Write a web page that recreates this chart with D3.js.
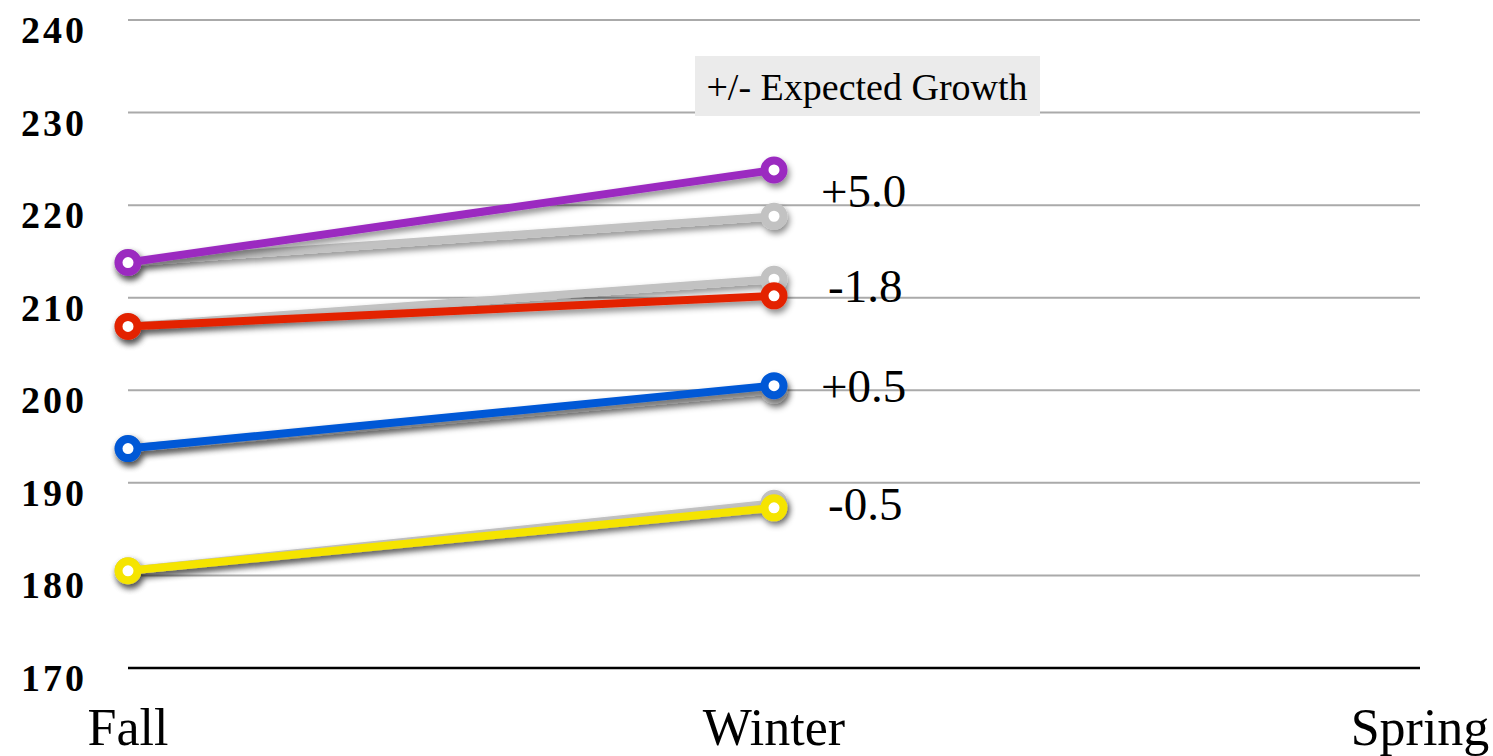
<!DOCTYPE html>
<html>
<head>
<meta charset="utf-8">
<script src="https://cdn.jsdelivr.net/npm/d3@7"></script>
<style>
  html, body { margin: 0; padding: 0; background: #fff; }
  svg { display: block; font-family: "Liberation Serif", "DejaVu Serif", serif; }
</style>
</head>
<body>
<svg id="chart" width="1493" height="756"></svg>
<script>
// Terms on the x axis
const terms = ["Fall", "Winter", "Spring"];
// Y axis ticks
const yTicks = [170, 180, 190, 200, 210, 220, 230, 240];

// Each group: colour, fall score, winter score and the expected winter score
const groupNames = ["purple", "red", "blue", "yellow"];
const groupColors = ["#9b2cc0", "#e32400", "#0059d6", "#f5e400"];
const fallScores = [213.8, 206.9, 193.7, 180.5];
const winterScores = [223.8, 210.2, 200.5, 187.3];
const expectedWinter = [218.8, 212.0, 200.0, 187.8];

const legendTitle = "+/- Expected Growth";

const svg = d3.select("#chart");

const x = d3.scalePoint().domain(terms).range([128, 1420]);
const y = d3.scaleLinear().domain([170, 240]).range([668, 20]);

// Soft drop shadow under the series
const defs = svg.append("defs");
const f = defs.append("filter").attr("id", "shadow")
  .attr("x", "-20%").attr("y", "-50%").attr("width", "140%").attr("height", "200%");
f.append("feDropShadow").attr("dx", 2).attr("dy", 4)
  .attr("stdDeviation", 3).attr("flood-color", "#000").attr("flood-opacity", 0.45);

// Gridlines
svg.append("g").selectAll("line")
  .data(yTicks.filter(t => t > 170))
  .join("line")
  .attr("x1", x("Fall")).attr("x2", x("Spring"))
  .attr("y1", d => y(d)).attr("y2", d => y(d))
  .attr("stroke", "#aaaaaa").attr("stroke-width", 2);

// Baseline
svg.append("line")
  .attr("x1", x("Fall")).attr("x2", x("Spring"))
  .attr("y1", y(170)).attr("y2", y(170))
  .attr("stroke", "#000").attr("stroke-width", 2.5);

// Y tick labels
svg.append("g").selectAll("text")
  .data(yTicks)
  .join("text")
  .attr("x", 87).attr("y", d => y(d) + 10)
  .attr("text-anchor", "end")
  .attr("dominant-baseline", "central")
  .attr("font-size", 38).attr("font-weight", "bold")
  .attr("letter-spacing", 3)
  .attr("fill", "#000")
  .text(d => d);

// X labels
svg.append("g").selectAll("text")
  .data(terms)
  .join("text")
  .attr("x", d => x(d)).attr("y", 745)
  .attr("text-anchor", "middle")
  .attr("font-size", 52)
  .attr("fill", "#000")
  .text(d => d);

// Legend title box
const lg = svg.append("g");
lg.append("rect").attr("x", 695).attr("y", 56).attr("width", 345).attr("height", 60).attr("fill", "#ebebeb");
lg.append("text").attr("x", 867).attr("y", 87)
  .attr("text-anchor", "middle").attr("dominant-baseline", "central")
  .attr("font-size", 38).attr("fill", "#000")
  .text(legendTitle);

const groups = groupNames.map((n, i) => ({
  name: n,
  color: groupColors[i],
  actual: [{ t: "Fall", v: fallScores[i] }, { t: "Winter", v: winterScores[i] }],
  expected: [{ t: "Fall", v: fallScores[i] }, { t: "Winter", v: expectedWinter[i] }],
  diff: winterScores[i] - expectedWinter[i]
}));

const line = d3.line().x(d => x(d.t)).y(d => y(d.v));

function drawSeries(g, pts, color) {
  const s = g.append("g").attr("filter", "url(#shadow)");
  s.append("path").datum(pts).attr("d", line)
    .attr("fill", "none").attr("stroke", color).attr("stroke-width", 8)
    .attr("stroke-linecap", "round");
  s.selectAll("circle").data(pts).join("circle")
    .attr("cx", d => x(d.t)).attr("cy", d => y(d.v)).attr("r", 9.5)
    .attr("fill", "#fff").attr("stroke", color).attr("stroke-width", 8);
}

// Expected lines drawn first, actual growth on top
const plot = svg.append("g");
groups.forEach(g => drawSeries(plot, g.expected, "#c2c2c2"));
groups.forEach(g => drawSeries(plot, g.actual, g.color));

// Difference from expected growth
const fmt = v => (v >= 0 ? "+" : "-") + Math.abs(v).toFixed(1);
svg.append("g").selectAll("text")
  .data(groups)
  .join("text")
  .attr("x", d => x("Winter") + (d.diff >= 0 ? 47 : 54))
  .attr("y", d => (y(d.actual[1].v) + y(d.expected[1].v)) / 2 - 2)
  .attr("dominant-baseline", "central")
  .attr("font-size", 47)
  .attr("fill", "#000")
  .text(d => fmt(d.diff));
</script>
</body>
</html>
